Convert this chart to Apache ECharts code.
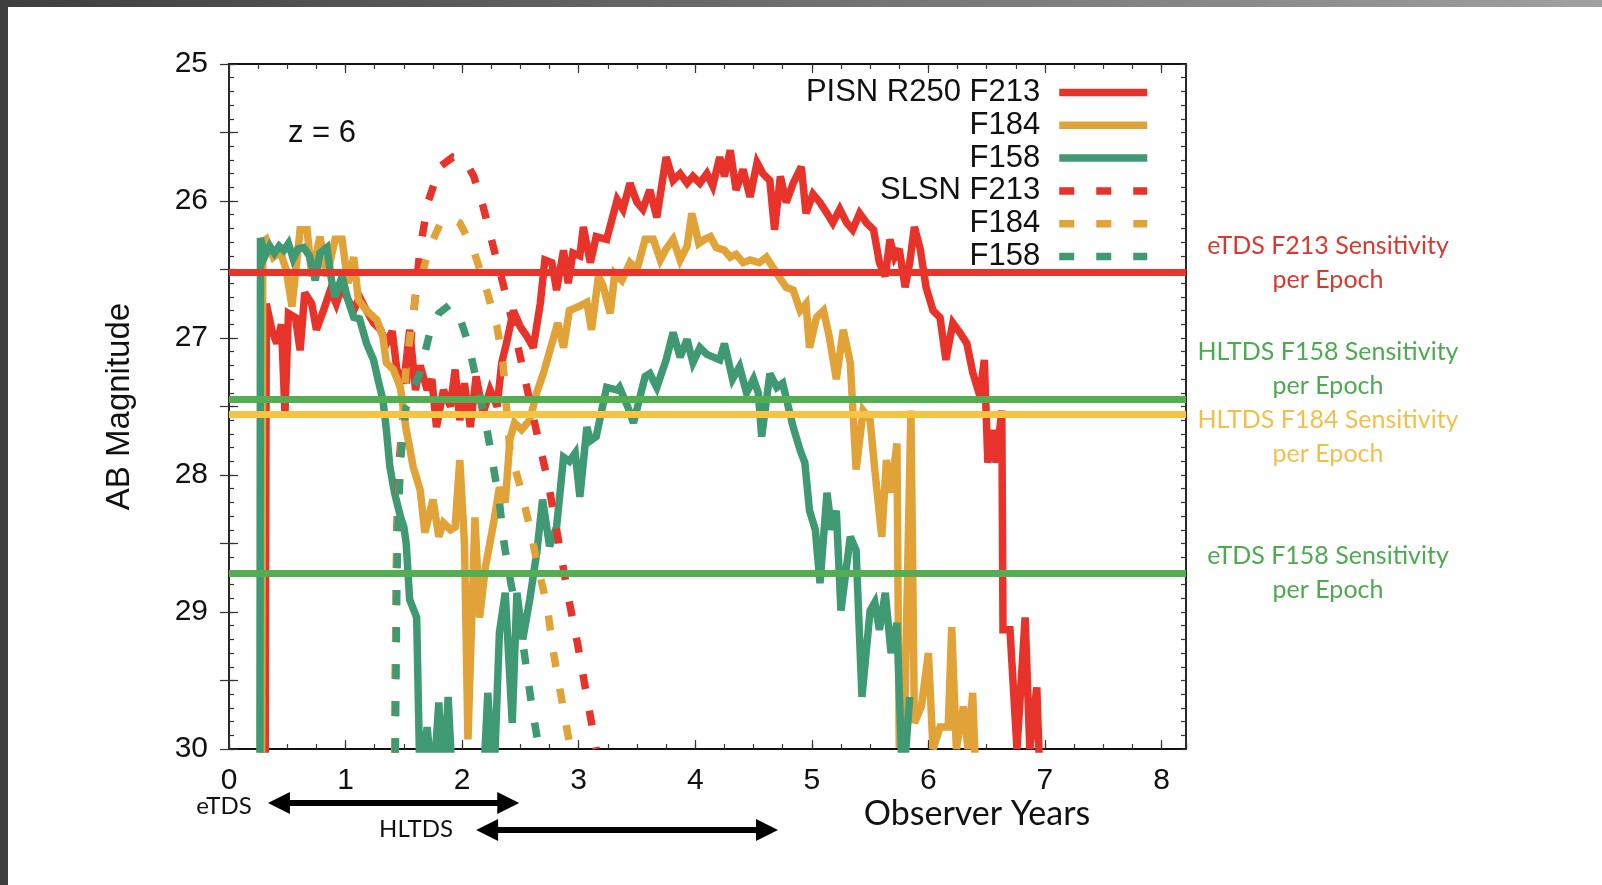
<!DOCTYPE html>
<html>
<head>
<meta charset="utf-8">
<script src="https://cdn.jsdelivr.net/npm/echarts@6/dist/echarts.min.js"></script>
<style>
html, body { margin: 0; padding: 0; width: 1602px; height: 885px; overflow: hidden;
  background: linear-gradient(to right, #3e3e3e, #a0a0a0); }
#paper { position: absolute; left: 8px; top: 7px; right: 0; bottom: 0; background: #fff; }
#chart { position: absolute; left: 0; top: 0; width: 1602px; height: 885px; }
</style>
</head>
<body>
<div id="paper"></div>
<div id="chart"></div>
<script>
// axis ranges (observer years / AB magnitude)
const xMax = 8.21;
const magMin = 25, magMax = 30;

// PISN R250 light curves
const pisnF213Years = [0.31,0.32,0.37,0.41,0.45,0.48,0.51,0.57,0.61,0.65,0.71,0.75,0.81,0.87,0.92,0.97,1.01,1.07,1.12,1.18,1.24,1.30,1.35,1.40,1.44,1.50,1.55,1.60,1.64,1.70,1.74,1.78,1.84,1.90,1.94,1.98,2.02,2.07,2.12,2.18,2.24,2.30,2.34,2.38,2.44,2.50,2.55,2.61,2.67,2.71,2.77,2.81,2.87,2.91,2.95,3.01,3.04,3.10,3.15,3.24,3.33,3.38,3.44,3.50,3.55,3.61,3.67,3.75,3.81,3.87,3.93,3.98,4.04,4.10,4.15,4.21,4.25,4.30,4.35,4.41,4.47,4.53,4.58,4.64,4.68,4.73,4.78,4.84,4.91,4.95,5.01,5.07,5.13,5.18,5.24,5.30,5.35,5.41,5.47,5.53,5.58,5.63,5.67,5.71,5.75,5.80,5.84,5.88,5.93,5.98,6.04,6.10,6.15,6.21,6.27,6.33,6.38,6.44,6.48,6.51,6.56,6.58,6.63,6.64,6.70,6.76,6.83,6.87,6.93,6.96];
const pisnF213Mag = [30.3,26.75,26.95,27.04,26.9,27.55,26.82,26.85,27.09,26.67,26.75,26.94,26.8,26.65,26.75,26.62,26.7,26.8,26.7,26.8,26.89,26.94,27.04,26.95,27.23,27.33,26.94,27.38,27.2,27.38,27.3,27.65,27.38,27.5,27.23,27.6,27.33,27.65,27.28,27.55,27.38,27.5,27.18,27.04,26.8,26.92,26.98,27.07,26.75,26.43,26.45,26.65,26.36,26.6,26.38,26.4,26.19,26.45,26.26,26.28,25.99,26.06,25.87,26.01,26.06,25.92,26.12,25.68,25.85,25.8,25.87,25.82,25.87,25.8,25.89,25.68,25.82,25.63,25.92,25.77,25.97,25.72,25.8,25.85,26.21,25.82,26.01,25.87,25.75,26.09,25.95,26.01,26.09,26.16,26.06,26.16,26.21,26.09,26.16,26.21,26.45,26.55,26.28,26.41,26.35,26.63,26.45,26.19,26.35,26.63,26.8,26.85,27.16,26.89,26.96,27.04,27.25,27.42,27.16,27.91,27.67,27.91,27.53,29.13,29.13,30.0,29.04,30.0,29.55,30.3];

const pisnF184Years = [0.28,0.29,0.32,0.38,0.44,0.49,0.54,0.61,0.67,0.71,0.78,0.84,0.91,0.97,1.02,1.07,1.11,1.18,1.27,1.32,1.35,1.41,1.47,1.52,1.55,1.58,1.64,1.68,1.75,1.80,1.84,1.90,1.94,1.98,2.02,2.05,2.11,2.15,2.20,2.27,2.32,2.37,2.41,2.45,2.51,2.58,2.64,2.70,2.77,2.82,2.87,2.92,3.00,3.07,3.11,3.17,3.21,3.27,3.31,3.37,3.44,3.50,3.57,3.64,3.70,3.75,3.81,3.87,3.93,3.97,4.03,4.08,4.13,4.18,4.25,4.30,4.35,4.41,4.47,4.55,4.61,4.70,4.78,4.84,4.90,4.95,4.98,5.04,5.10,5.15,5.21,5.27,5.33,5.38,5.44,5.50,5.54,5.60,5.64,5.68,5.73,5.75,5.80,5.85,5.88,5.94,6.00,6.04,6.10,6.17,6.20,6.24,6.30,6.34,6.38,6.41];
const pisnF184Mag = [30.3,26.3,26.28,26.41,26.37,26.5,26.77,26.21,26.21,26.55,26.26,26.55,26.28,26.28,26.6,26.41,26.72,26.8,26.87,26.99,27.18,27.23,27.36,27.67,27.8,27.94,28.11,28.42,28.18,28.45,28.35,28.4,28.38,27.89,28.5,29.93,28.31,29.04,28.67,28.35,28.09,28.2,27.74,27.62,27.67,27.6,27.4,27.25,27.04,26.89,27.07,26.8,26.77,26.74,26.94,26.55,26.62,26.82,26.53,26.58,26.45,26.5,26.28,26.28,26.43,26.35,26.28,26.43,26.33,26.09,26.31,26.28,26.26,26.34,26.36,26.41,26.39,26.45,26.43,26.45,26.41,26.53,26.63,26.65,26.8,26.75,27.07,26.85,26.8,26.99,27.3,26.94,27.18,27.96,27.53,27.6,27.96,28.45,27.89,28.13,27.77,29.99,29.62,27.53,29.81,29.69,29.3,30.0,29.84,29.84,29.11,30.0,29.69,30.0,29.59,30.3];

const pisnF158Years = [0.265,0.27,0.31,0.35,0.39,0.43,0.47,0.51,0.55,0.59,0.64,0.69,0.74,0.78,0.84,0.88,0.91,0.97,1.02,1.07,1.12,1.18,1.24,1.28,1.32,1.35,1.38,1.42,1.47,1.50,1.52,1.55,1.61,1.64,1.70,1.75,1.80,1.84,1.88,1.92,2.18,2.22,2.27,2.32,2.37,2.43,2.47,2.52,2.58,2.64,2.69,2.75,2.81,2.87,2.92,2.97,3.01,3.07,3.10,3.15,3.24,3.33,3.35,3.42,3.47,3.57,3.61,3.67,3.75,3.81,3.87,3.93,3.98,4.04,4.10,4.21,4.25,4.32,4.38,4.44,4.50,4.54,4.57,4.64,4.70,4.75,4.84,4.90,4.94,4.98,5.03,5.07,5.13,5.17,5.21,5.25,5.33,5.38,5.43,5.50,5.54,5.58,5.63,5.68,5.73,5.78,5.84];
const pisnF158Mag = [30.3,26.27,26.4,26.33,26.38,26.33,26.36,26.31,26.42,26.35,26.34,26.4,26.58,26.38,26.34,26.58,26.7,26.55,26.72,26.85,26.86,27.04,27.16,27.31,27.45,27.67,27.94,28.13,28.3,28.38,28.5,28.91,29.04,30.3,29.84,30.3,29.66,30.3,29.62,30.3,30.3,29.59,30.3,29.15,28.86,29.81,28.86,29.2,28.91,28.57,28.18,28.52,28.38,27.87,27.9,27.84,28.16,27.65,27.75,27.72,27.36,27.38,27.36,27.5,27.62,27.28,27.26,27.36,27.16,26.96,27.14,27.01,27.18,27.07,27.12,27.16,27.04,27.3,27.21,27.4,27.3,27.4,27.72,27.26,27.36,27.33,27.65,27.82,27.91,28.26,28.4,28.79,28.13,28.4,28.26,28.99,28.45,28.55,29.62,28.99,28.93,29.13,28.86,29.3,29.08,30.3,29.62,30.3];

// SLSN light curves
const slsnF213Years = [1.42,1.43,1.44,1.46,1.50,1.57,1.64,1.71,1.81,1.92,2.02,2.10,2.18,2.26,2.35,2.43,2.51,2.59,2.67,2.74,2.80,2.86,2.92,2.99,3.05,3.11,3.15];
const slsnF213Mag = [30.3,29.2,28.4,27.9,27.5,26.94,26.34,26.0,25.75,25.68,25.7,25.82,26.04,26.31,26.6,26.88,27.18,27.5,27.8,28.06,28.35,28.64,28.93,29.23,29.52,29.81,30.0];
const slsnF184Years = [1.42,1.43,1.44,1.47,1.52,1.60,1.72,1.81,1.90,1.98,2.09,2.21,2.30,2.35,2.41,2.50,2.58,2.65,2.73,2.78,2.84,2.90,2.93];
const slsnF184Mag = [30.3,29.2,28.5,27.9,27.2,26.7,26.34,26.17,26.12,26.16,26.34,26.65,26.92,27.18,27.82,28.09,28.38,28.67,28.96,29.28,29.57,29.86,30.0];
const slsnF158Years = [1.425,1.435,1.445,1.47,1.52,1.64,1.72,1.80,1.89,1.98,2.06,2.13,2.20,2.26,2.32,2.36,2.42,2.50,2.55,2.60,2.66,2.70];
const slsnF158Mag = [30.3,29.2,28.5,27.9,27.5,27.25,26.97,26.82,26.76,26.85,27.06,27.34,27.6,27.9,28.2,28.5,28.8,29.1,29.4,29.7,30.0,30.3];

// survey sensitivity per epoch
const sensNames = ['eTDS F213', 'HLTDS F158', 'HLTDS F184', 'eTDS F158'];
const sensMags = [26.52, 27.45, 27.56, 28.72];
const sensColors = ['#e8352b', '#52ae50', '#f6c343', '#52ae50'];

// survey spans (years) shown as arrows under the axis
const surveyNames = ['eTDS', 'HLTDS'];
const surveySpans = [[0.334, 2.49], [2.12, 4.71]];

const RED = '#e8332a', ORANGE = '#e1a338', TEAL = '#3f9a74';
const SANS = 'Liberation Sans';
const CAL = 'Lato';

const legendLabels = {
    'PISN R250 F213': 'PISN R250 F213',
    'PISN F184': 'F184',
    'PISN F158': 'F158',
    'SLSN F213': 'SLSN F213',
    'SLSN F184': 'F184',
    'SLSN F158': 'F158'
};

function pairs(xs, ys) {
    return xs.map((x, i) => [x, ys[i]]);
}

function curve(name, xs, ys, color, dashed) {
    return {
        name: name,
        type: 'line',
        data: pairs(xs, ys),
        showSymbol: false,
        symbol: 'none',
        clip: true,
        z: 2,
        lineStyle: {color: color, width: 7.5, join: 'miter', miterLimit: 3, type: dashed ? [15, 22] : 'solid'},
        itemStyle: {color: color},
        emphasis: {disabled: true}
    };
}

function intOnly(v) {
    return Math.abs(v - Math.round(v)) < 1e-6 ? String(Math.round(v)) : '';
}

const axisLine = {show: true, onZero: false, lineStyle: {color: '#111', width: 1.8}};
const tickStyle = {color: '#333', width: 1.2};

function xAx(pos, interval, len, main) {
    return {
        type: 'value', position: pos, min: 0, max: xMax, interval: interval,
        axisLine: main ? axisLine : {show: false},
        axisTick: {show: true, inside: true, length: len, lineStyle: tickStyle},
        axisLabel: main && pos === 'bottom'
            ? {formatter: intOnly, margin: 17, fontSize: 30, fontFamily: SANS, color: '#111'}
            : {show: false},
        splitLine: {show: false}
    };
}

function yAx(pos, interval, len, main) {
    const ax = {
        type: 'value', position: pos, min: magMin, max: magMax, interval: interval, inverse: true,
        axisLine: main ? axisLine : {show: false},
        axisTick: {show: true, inside: true, length: len, lineStyle: tickStyle},
        axisLabel: main && pos === 'left'
            ? {formatter: intOnly, margin: 21, fontSize: 30, fontFamily: SANS, color: '#111'}
            : {show: false},
        splitLine: {show: false}
    };
    if (main && pos === 'left') {
        ax.name = 'AB Magnitude';
        ax.nameLocation = 'middle';
        ax.nameRotate = 90;
        ax.nameGap = 93;
        ax.nameTextStyle = {fontSize: 33, fontFamily: SANS, color: '#111'};
    }
    return ax;
}

const series = [
    curve('PISN R250 F213', pisnF213Years, pisnF213Mag, RED, false),
    curve('PISN F184', pisnF184Years, pisnF184Mag, ORANGE, false),
    curve('PISN F158', pisnF158Years, pisnF158Mag, TEAL, false),
    curve('SLSN F213', slsnF213Years, slsnF213Mag, RED, true),
    curve('SLSN F184', slsnF184Years, slsnF184Mag, ORANGE, true),
    curve('SLSN F158', slsnF158Years, slsnF158Mag, TEAL, true)
];

sensNames.forEach((n, i) => {
    series.push({
        name: n + ' Sensitivity',
        type: 'line',
        data: [],
        z: 5,
        markLine: {
            silent: true,
            symbol: 'none',
            label: {show: false},
            lineStyle: {color: sensColors[i], width: 7, type: 'solid', cap: 'butt'},
            emphasis: {disabled: true},
            data: [{yAxis: sensMags[i]}]
        }
    });
});

const chart = echarts.init(document.getElementById('chart'), null, {renderer: 'canvas'});
chart.setOption({
    animation: false,
    backgroundColor: 'transparent',
    grid: {left: 229, top: 64, right: 416, bottom: 136, outerBoundsMode: 'none', containLabel: false},
    xAxis: [
        xAx('bottom', 0.25, 5, true),
        xAx('bottom', 1, 9, false),
        xAx('top', 0.25, 5, true),
        xAx('top', 1, 9, false)
    ],
    yAxis: [
        yAx('left', 0.1, 5, true),
        yAx('left', 0.5, 9, false),
        yAx('right', 0.1, 5, true),
        yAx('right', 0.5, 9, false)
    ],
    legend: {
        data: Object.keys(legendLabels),
        orient: 'vertical',
        align: 'right',
        right: 451,
        top: 77,
        padding: 0,
        itemGap: 1.8,
        itemWidth: 88,
        itemHeight: 10,
        selectedMode: false,
        formatter: name => legendLabels[name],
        itemStyle: {opacity: 0},
        lineStyle: {width: 7.5},
        textStyle: {fontSize: 31, fontFamily: SANS, color: '#111', lineHeight: 30, padding: [0, 14, 0, 0]}
    },
    series: series
});

// annotations: texts and survey arrows
function txt(x, y, text, font, fill, lineHeight) {
    return {
        type: 'text', x: x, y: y, silent: true, z: 10,
        style: {
            text: text, font: font, fill: fill, lineHeight: lineHeight || undefined,
            align: 'center', verticalAlign: 'middle',
            textAlign: 'center', textVerticalAlign: 'middle'
        }
    };
}

const graphics = [
    txt(322, 133, 'z = 6', '31px "' + SANS + '"', '#111'),
    txt(1328, 263, 'eTDS F213 Sensitivity\nper Epoch', '25px ' + CAL, '#d9382d', 34),
    txt(1328, 369, 'HLTDS F158 Sensitivity\nper Epoch', '25px ' + CAL, '#4caa4f', 34),
    txt(1328, 437, 'HLTDS F184 Sensitivity\nper Epoch', '25px ' + CAL, '#f2c04a', 34),
    txt(1328, 573, 'eTDS F158 Sensitivity\nper Epoch', '25px ' + CAL, '#4caa4f', 34),
    txt(977, 814, 'Observer Years', '34px ' + CAL, '#111'),
    txt(224, 806, 'eTDS', '24px ' + CAL, '#111'),
    txt(416, 829, 'HLTDS', '24px ' + CAL, '#111')
];

const arrowY = [803, 830];
const headLen = 22, headHalf = 11;
surveySpans.forEach((span, i) => {
    const x1 = chart.convertToPixel({xAxisIndex: 0}, span[0]);
    const x2 = chart.convertToPixel({xAxisIndex: 0}, span[1]);
    const y = arrowY[i];
    graphics.push({
        type: 'line', silent: true, z: 10,
        shape: {x1: x1 + headLen - 2, y1: y, x2: x2 - headLen + 2, y2: y},
        style: {stroke: '#000', lineWidth: 6}
    });
    graphics.push({
        type: 'polygon', silent: true, z: 10,
        shape: {points: [[x1, y], [x1 + headLen, y - headHalf], [x1 + headLen, y + headHalf]]},
        style: {fill: '#000'}
    });
    graphics.push({
        type: 'polygon', silent: true, z: 10,
        shape: {points: [[x2, y], [x2 - headLen, y - headHalf], [x2 - headLen, y + headHalf]]},
        style: {fill: '#000'}
    });
});

chart.setOption({graphic: graphics});
</script>
</body>
</html>
